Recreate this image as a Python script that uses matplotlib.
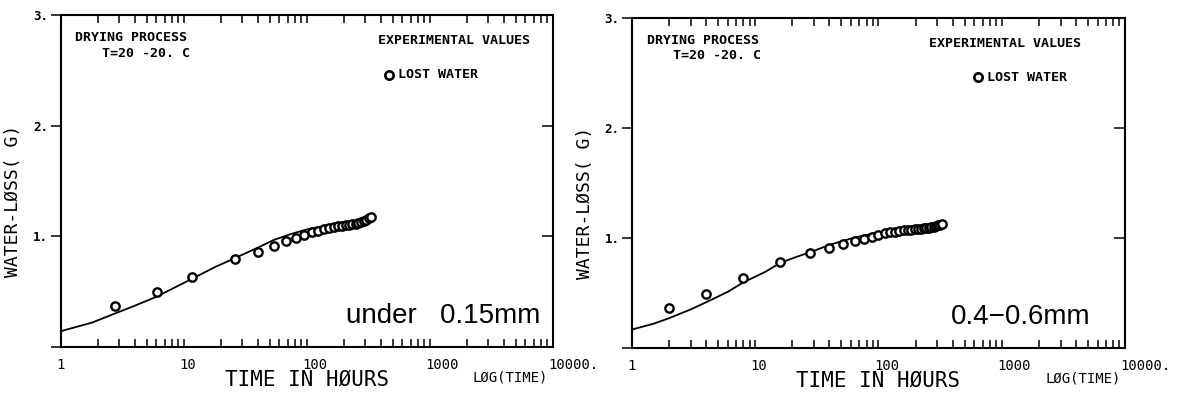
import matplotlib
matplotlib.use("Agg")
import matplotlib.pyplot as plt
from matplotlib.transforms import ScaledTranslation

# left panel: under 0.15 mm
t_left = [2.75, 6.1, 11.8, 26, 40, 54, 68, 82, 96, 110, 124, 138, 152, 166,
          180, 194, 208, 222, 236, 250, 264, 278, 292, 306, 320, 334]
w_left = [0.37, 0.495, 0.63, 0.79, 0.855, 0.915, 0.955, 0.985, 1.01, 1.035,
          1.05, 1.065, 1.075, 1.085, 1.09, 1.095, 1.10, 1.105, 1.108, 1.112,
          1.118, 1.125, 1.135, 1.148, 1.16, 1.172]
tc_left = [1, 1.8, 2.76, 4, 6.1, 9, 12, 18, 26, 40, 54, 75, 100, 145, 210, 330]
wc_left = [0.14, 0.218, 0.30, 0.37, 0.455, 0.55, 0.62, 0.72, 0.80, 0.895,
           0.965, 1.02, 1.06, 1.097, 1.12, 1.15]

# right panel: 0.4-0.6 mm
t_right = [2, 4, 8, 16, 28, 40, 52, 64, 76, 88, 100, 112, 124, 136, 148, 160,
           172, 184, 196, 208, 220, 232, 244, 256, 268, 280, 292, 304, 316, 328]
w_right = [0.36, 0.49, 0.635, 0.78, 0.865, 0.91, 0.945, 0.97, 0.99, 1.01,
           1.025, 1.04, 1.05, 1.056, 1.062, 1.067, 1.071, 1.074, 1.077, 1.08,
           1.083, 1.086, 1.089, 1.092, 1.096, 1.10, 1.106, 1.113, 1.121, 1.13]
tc_right = [1, 1.5, 2, 3, 4, 6, 8, 12, 16, 22, 28.5, 41, 65, 88, 120, 160, 220, 300]
wc_right = [0.167, 0.22, 0.27, 0.35, 0.415, 0.51, 0.595, 0.69, 0.773, 0.83,
            0.873, 0.94, 1.005, 1.035, 1.06, 1.075, 1.085, 1.10]

xticks = [1, 10, 100, 1000, 10000]
xticklabels = ["1", "10", "100", "1000", "10000."]
yticks = [0, 1, 2, 3]
yticklabels = ["", "1.", "2.", "3."]
size_labels = ["under   0.15mm", "0.4\u22120.6mm"]

mono = "DejaVu Sans Mono"

fig = plt.figure(figsize=(11.78, 3.94), dpi=100)
ax1 = fig.add_axes([0.0514, 0.120, 0.4177, 0.842])
ax2 = fig.add_axes([0.5365, 0.117, 0.4185, 0.838])

panels = [
    (ax1, t_left, w_left, tc_left, wc_left, size_labels[0], 0.975, 0.686),
    (ax2, t_right, w_right, tc_right, wc_right, size_labels[1], 0.931, 0.72),
]

for ax, t, w, tc, wc, size_txt, size_x, leg_x in panels:
    ax.set_xscale("log")
    ax.set_xlim(1, 10000)
    ax.set_ylim(0, 3)
    for s in ax.spines.values():
        s.set_linewidth(1.5)

    ax.plot(tc, wc, color="black", lw=1.3)
    ax.plot(t, w, "o", ms=6, mfc="white", mec="black", mew=1.7, zorder=3)

    ax.set_xticks(xticks)
    ax.set_xticklabels(xticklabels, fontfamily=mono, fontsize=10)
    ax.tick_params(axis="x", which="both", direction="in", top=True,
                   length=6, width=1.1, pad=8)
    for lab in ax.get_xticklabels():
        lab.set_ha("left")
        lab.set_transform(lab.get_transform() +
                          ScaledTranslation(-0.045, 0, fig.dpi_scale_trans))

    ax.set_yticks(yticks)
    ax.set_yticklabels(yticklabels, fontfamily=mono, fontsize=9, fontweight="bold")
    ax.tick_params(axis="y", which="major", direction="out", length=7,
                   width=1.1, pad=2)
    ax.tick_params(axis="y", which="minor", left=False, right=False)

    axr = ax.twinx()
    axr.set_ylim(0, 3)
    axr.set_yticks([1, 2])
    axr.set_yticklabels([])
    axr.tick_params(axis="y", direction="in", length=8, width=1.1)
    axr.spines[:].set_visible(False)

    ax.text(0.5, -0.10, "TIME IN H\u00d8URS", transform=ax.transAxes,
            ha="center", va="center", fontfamily=mono, fontsize=15)
    ax.text(0.991, -0.094, "L\u00d8G(TIME)", transform=ax.transAxes,
            ha="right", va="center", fontfamily=mono, fontsize=10)
    ax.set_ylabel("WATER-L\u00d8SS( G)", fontfamily=mono, fontsize=13)
    ax.yaxis.set_label_coords(-0.078, 0.44)

    ax.text(0.0295, 0.932, "DRYING PROCESS", transform=ax.transAxes,
            ha="left", va="center", fontfamily=mono, fontsize=9.6, fontweight="bold")
    ax.text(0.0833, 0.885, "T=20 -20. C", transform=ax.transAxes,
            ha="left", va="center", fontfamily=mono, fontsize=9.6, fontweight="bold")
    ax.text(size_x - 0.02, 0.922, "EXPERIMENTAL VALUES", transform=ax.transAxes,
            ha="right", va="center", fontfamily=mono, fontsize=9.6, fontweight="bold")
    ax.plot([leg_x - 0.019], [0.82], "o", ms=6, mfc="white", mec="black",
            mew=1.9, transform=ax.transAxes, clip_on=False)
    ax.text(leg_x, 0.82, "LOST WATER", transform=ax.transAxes,
            ha="left", va="center", fontfamily=mono, fontsize=9.6, fontweight="bold")

    ax.text(size_x, 0.073, size_txt, transform=ax.transAxes, ha="right",
            va="baseline", fontfamily="Liberation Sans", fontsize=20)

fig.savefig("out.png", dpi=100)
